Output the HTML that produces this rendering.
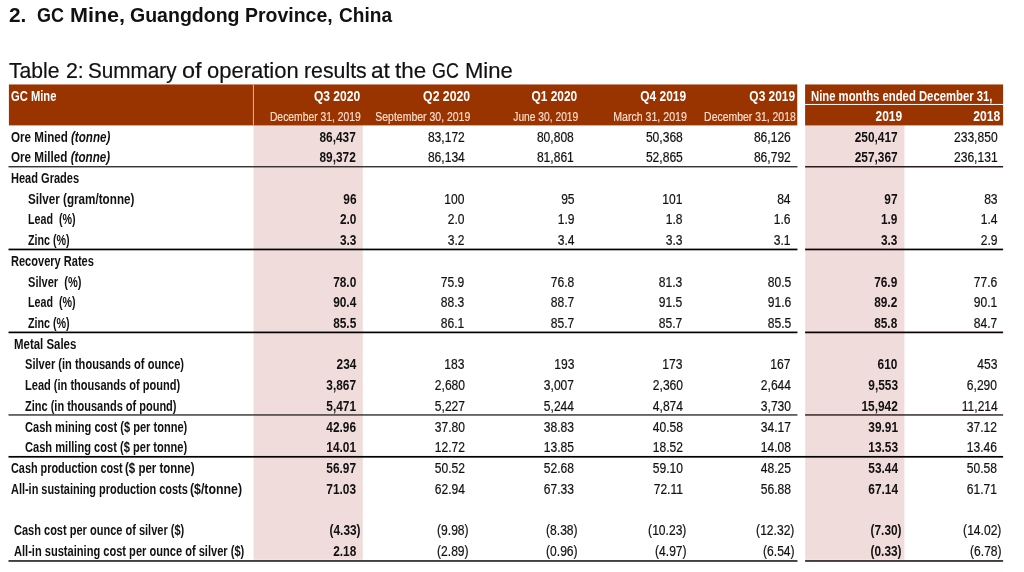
<!DOCTYPE html>
<html lang="en">
<head>
<meta charset="utf-8">
<title>GC Mine, Guangdong Province, China - Table 2</title>
<style>
html,body{margin:0;padding:0;background:#fff;}
body{width:1024px;height:572px;position:relative;overflow:hidden;font-family:"Liberation Sans",sans-serif;color:#111;}
.t{position:absolute;white-space:nowrap;line-height:1;display:block;}
#txt{position:absolute;left:0;top:0;width:1024px;height:572px;will-change:transform;filter:blur(0.4px);}
#bg{filter:blur(0.35px);}
.l{transform-origin:0 0;}
.r{transform-origin:100% 0;}
.b{font-weight:bold;}
.k{color:#111;}
.g{-webkit-text-stroke:0.2px #111;}
.w{color:#fff;}
.p{color:#fcdfcd;-webkit-text-stroke:0.15px #fcdfcd;}
i{font-style:italic;}
</style>
</head>
<body>
<svg id="bg" width="1024" height="572" viewBox="0 0 1024 572" shape-rendering="geometricPrecision" style="position:absolute;left:0;top:0">
<rect x="253.60" y="124.90" width="109.15" height="434.90" fill="#f0dcdb"/>
<rect x="805.20" y="124.90" width="99.20" height="434.90" fill="#f0dcdb"/>
<rect x="8.90" y="84.45" width="788.35" height="40.95" fill="#993300"/>
<rect x="805.10" y="84.45" width="198.00" height="40.95" fill="#993300"/>
<rect x="252.90" y="84.45" width="1.00" height="40.95" fill="#f2b496"/>
<rect x="805.10" y="103.95" width="198.00" height="1.05" fill="#fff4ec"/>
<rect x="8.50" y="166.10" width="788.95" height="1.30" fill="#222222"/>
<rect x="805.10" y="166.00" width="198.00" height="1.50" fill="#2a1c1c"/>
<rect x="8.50" y="248.60" width="788.95" height="1.70" fill="#000000"/>
<rect x="805.10" y="248.60" width="198.00" height="1.70" fill="#0a0000"/>
<rect x="8.50" y="331.55" width="788.95" height="1.70" fill="#000000"/>
<rect x="805.10" y="331.55" width="198.00" height="1.70" fill="#0a0000"/>
<rect x="8.50" y="414.30" width="788.95" height="1.30" fill="#222222"/>
<rect x="805.10" y="414.25" width="198.00" height="1.40" fill="#2a1c1c"/>
<rect x="8.50" y="455.95" width="994.60" height="1.70" fill="#000000"/>
<rect x="8.50" y="560.00" width="788.95" height="1.90" fill="#404040"/>
<rect x="805.10" y="560.00" width="198.00" height="1.90" fill="#443c3c"/>
</svg>
<div id="txt">
<span id="t1_0" class="t l b k" style="left:8.60px;top:4.84px;font-size:20.50px;transform:scaleX(1.0170)">2.</span>
<span id="t1_1" class="t l b k" style="left:37.10px;top:4.84px;font-size:20.50px;transform:scaleX(0.8780)">GC</span>
<span id="t1_2" class="t l b k" style="left:69.60px;top:4.84px;font-size:20.50px;transform:scaleX(1.0514)">Mine,</span>
<span id="t1_3" class="t l b k" style="left:129.70px;top:4.84px;font-size:20.50px;transform:scaleX(0.9520)">Guangdong</span>
<span id="t1_4" class="t l b k" style="left:245.30px;top:4.84px;font-size:20.50px;transform:scaleX(0.9502)">Province,</span>
<span id="t1_5" class="t l b k" style="left:339.10px;top:4.84px;font-size:20.50px;transform:scaleX(0.9306)">China</span>
<span id="t2_0" class="t l k g" style="left:9.30px;top:60.80px;font-size:21.50px;transform:scaleX(0.9824)">Table</span>
<span id="t2_1" class="t l k g" style="left:65.60px;top:60.80px;font-size:21.50px;transform:scaleX(0.9923)">2:</span>
<span id="t2_2" class="t l k g" style="left:87.50px;top:60.80px;font-size:21.50px;transform:scaleX(0.9632)">Summary</span>
<span id="t2_3" class="t l k g" style="left:182.40px;top:60.80px;font-size:21.50px;transform:scaleX(1.0927)">of</span>
<span id="t2_4" class="t l k g" style="left:206.80px;top:60.80px;font-size:21.50px;transform:scaleX(1.0217)">operation</span>
<span id="t2_5" class="t l k g" style="left:303.80px;top:60.80px;font-size:21.50px;transform:scaleX(0.9901)">results</span>
<span id="t2_6" class="t l k g" style="left:371.00px;top:60.80px;font-size:21.50px;transform:scaleX(1.0537)">at</span>
<span id="t2_7" class="t l k g" style="left:395.35px;top:60.80px;font-size:21.50px;transform:scaleX(1.0421)">the</span>
<span id="t2_8" class="t l k g" style="left:431.90px;top:60.80px;font-size:21.50px;transform:scaleX(0.8310)">GC</span>
<span id="t2_9" class="t l k g" style="left:464.70px;top:60.80px;font-size:21.50px;transform:scaleX(1.0255)">Mine</span>
<span id="hgc" class="t l b w" style="left:11.20px;top:89.28px;font-size:14.90px;transform:scaleX(0.7516)">GC Mine</span>
<span id="h1_0" class="t r b w" style="right:663.60px;top:89.28px;font-size:14.90px;transform:scaleX(0.8085)">Q3 2020</span>
<span id="h1_1" class="t r b w" style="right:554.20px;top:89.28px;font-size:14.90px;transform:scaleX(0.8234)">Q2 2020</span>
<span id="h1_2" class="t r b w" style="right:446.40px;top:89.28px;font-size:14.90px;transform:scaleX(0.7980)">Q1 2020</span>
<span id="h1_3" class="t r b w" style="right:337.90px;top:89.28px;font-size:14.90px;transform:scaleX(0.8024)">Q4 2019</span>
<span id="h1_4" class="t r b w" style="right:229.20px;top:89.28px;font-size:14.90px;transform:scaleX(0.8015)">Q3 2019</span>
<span id="h1_5" class="t r b w" style="right:122.30px;top:109.05px;font-size:14.00px;transform:scaleX(0.8570)">2019</span>
<span id="h1_6" class="t r b w" style="right:23.60px;top:109.05px;font-size:14.00px;transform:scaleX(0.8634)">2018</span>
<span id="h2_0" class="t r p" style="right:663.20px;top:111.22px;font-size:12.50px;transform:scaleX(0.8279)">December 31, 2019</span>
<span id="h2_1" class="t r p" style="right:554.20px;top:111.22px;font-size:12.50px;transform:scaleX(0.8386)">September 30, 2019</span>
<span id="h2_2" class="t r p" style="right:446.00px;top:111.22px;font-size:12.50px;transform:scaleX(0.8196)">June 30, 2019</span>
<span id="h2_3" class="t r p" style="right:337.25px;top:111.22px;font-size:12.50px;transform:scaleX(0.8485)">March 31, 2019</span>
<span id="h2_4" class="t r p" style="right:228.50px;top:111.22px;font-size:12.50px;transform:scaleX(0.8352)">December 31, 2018</span>
<span id="h9" class="t l b w" style="left:810.90px;top:89.05px;font-size:14.00px;transform:scaleX(0.8068)">Nine months ended December 31,</span>
<span id="l0" class="t l b k" style="left:11.15px;top:129.55px;font-size:14.00px;transform:scaleX(0.8293)">Ore Mined <i>(tonne)</i></span>
<span id="l1" class="t l b k" style="left:11.15px;top:150.26px;font-size:14.00px;transform:scaleX(0.8339)">Ore Milled <i>(tonne)</i></span>
<span id="l2" class="t l b k" style="left:11.15px;top:170.98px;font-size:14.00px;transform:scaleX(0.7890)">Head Grades</span>
<span id="l3" class="t l b k" style="left:28.20px;top:191.69px;font-size:14.00px;transform:scaleX(0.8339)">Silver (gram/tonne)</span>
<span id="l4" class="t l b k" style="left:28.20px;top:212.41px;font-size:14.00px;transform:scaleX(0.7649)">Lead&nbsp; (%)</span>
<span id="l5" class="t l b k" style="left:28.20px;top:233.12px;font-size:14.00px;transform:scaleX(0.7658)">Zinc (%)</span>
<span id="l6" class="t l b k" style="left:11.15px;top:253.84px;font-size:14.00px;transform:scaleX(0.7886)">Recovery Rates</span>
<span id="l7" class="t l b k" style="left:28.20px;top:274.55px;font-size:14.00px;transform:scaleX(0.7902)">Silver&nbsp; (%)</span>
<span id="l8" class="t l b k" style="left:28.20px;top:295.27px;font-size:14.00px;transform:scaleX(0.7649)">Lead&nbsp; (%)</span>
<span id="l9" class="t l b k" style="left:28.20px;top:315.99px;font-size:14.00px;transform:scaleX(0.7658)">Zinc (%)</span>
<span id="l10" class="t l b k" style="left:14.40px;top:336.70px;font-size:14.00px;transform:scaleX(0.8169)">Metal Sales</span>
<span id="l11" class="t l b k" style="left:25.15px;top:357.42px;font-size:14.00px;transform:scaleX(0.7923)">Silver (in thousands of ounce)</span>
<span id="l12" class="t l b k" style="left:25.15px;top:378.13px;font-size:14.00px;transform:scaleX(0.7890)">Lead (in thousands of pound)</span>
<span id="l13" class="t l b k" style="left:25.15px;top:398.85px;font-size:14.00px;transform:scaleX(0.7855)">Zinc (in thousands of pound)</span>
<span id="l14" class="t l b k" style="left:25.15px;top:419.56px;font-size:14.00px;transform:scaleX(0.7901)">Cash mining cost ($ per tonne)</span>
<span id="l15" class="t l b k" style="left:25.15px;top:440.28px;font-size:14.00px;transform:scaleX(0.7930)">Cash milling cost ($ per tonne)</span>
<span id="l16" class="t l b k" style="left:11.15px;top:460.99px;font-size:14.00px;transform:scaleX(0.7765)">Cash production cost</span>
<span id="l16_0001" class="t l b k" style="left:125.40px;top:460.99px;font-size:14.00px;transform:scaleX(0.8198)">($ per tonne)</span>
<span id="l17" class="t l b k" style="left:11.15px;top:481.71px;font-size:14.00px;transform:scaleX(0.7809)">All-in sustaining production costs</span>
<span id="l17_0001" class="t l b k" style="left:190.40px;top:481.71px;font-size:14.00px;transform:scaleX(0.8797)">($/tonne)</span>
<span id="l19" class="t l b k" style="left:13.90px;top:523.14px;font-size:14.00px;transform:scaleX(0.7871)">Cash cost per ounce of silver ($)</span>
<span id="l20" class="t l b k" style="left:13.90px;top:543.86px;font-size:14.00px;transform:scaleX(0.7914)">All-in sustaining cost per ounce of silver ($)</span>
<span id="d0_0" class="t r b k" style="right:667.70px;top:129.55px;font-size:14.00px;transform:scaleX(0.8480)">86,437</span>
<span id="d0_1" class="t r k g" style="right:559.30px;top:129.55px;font-size:14.00px;transform:scaleX(0.8620)">83,172</span>
<span id="d0_2" class="t r k g" style="right:449.90px;top:129.55px;font-size:14.00px;transform:scaleX(0.8620)">80,808</span>
<span id="d0_3" class="t r k g" style="right:341.40px;top:129.55px;font-size:14.00px;transform:scaleX(0.8620)">50,368</span>
<span id="d0_4" class="t r k g" style="right:233.20px;top:129.55px;font-size:14.00px;transform:scaleX(0.8620)">86,126</span>
<span id="d0_5" class="t r b k" style="right:126.40px;top:129.55px;font-size:14.00px;transform:scaleX(0.8480)">250,417</span>
<span id="d0_6" class="t r k g" style="right:26.70px;top:129.55px;font-size:14.00px;transform:scaleX(0.8620)">233,850</span>
<span id="d1_0" class="t r b k" style="right:667.70px;top:150.26px;font-size:14.00px;transform:scaleX(0.8480)">89,372</span>
<span id="d1_1" class="t r k g" style="right:559.30px;top:150.26px;font-size:14.00px;transform:scaleX(0.8620)">86,134</span>
<span id="d1_2" class="t r k g" style="right:449.90px;top:150.26px;font-size:14.00px;transform:scaleX(0.8620)">81,861</span>
<span id="d1_3" class="t r k g" style="right:341.40px;top:150.26px;font-size:14.00px;transform:scaleX(0.8620)">52,865</span>
<span id="d1_4" class="t r k g" style="right:233.20px;top:150.26px;font-size:14.00px;transform:scaleX(0.8620)">86,792</span>
<span id="d1_5" class="t r b k" style="right:126.40px;top:150.26px;font-size:14.00px;transform:scaleX(0.8480)">257,367</span>
<span id="d1_6" class="t r k g" style="right:26.70px;top:150.26px;font-size:14.00px;transform:scaleX(0.8620)">236,131</span>
<span id="d3_0" class="t r b k" style="right:667.70px;top:191.69px;font-size:14.00px;transform:scaleX(0.8480)">96</span>
<span id="d3_1" class="t r k g" style="right:559.30px;top:191.69px;font-size:14.00px;transform:scaleX(0.8620)">100</span>
<span id="d3_2" class="t r k g" style="right:449.90px;top:191.69px;font-size:14.00px;transform:scaleX(0.8620)">95</span>
<span id="d3_3" class="t r k g" style="right:341.40px;top:191.69px;font-size:14.00px;transform:scaleX(0.8620)">101</span>
<span id="d3_4" class="t r k g" style="right:233.20px;top:191.69px;font-size:14.00px;transform:scaleX(0.8620)">84</span>
<span id="d3_5" class="t r b k" style="right:126.40px;top:191.69px;font-size:14.00px;transform:scaleX(0.8480)">97</span>
<span id="d3_6" class="t r k g" style="right:26.70px;top:191.69px;font-size:14.00px;transform:scaleX(0.8620)">83</span>
<span id="d4_0" class="t r b k" style="right:667.70px;top:212.41px;font-size:14.00px;transform:scaleX(0.8480)">2.0</span>
<span id="d4_1" class="t r k g" style="right:559.30px;top:212.41px;font-size:14.00px;transform:scaleX(0.8620)">2.0</span>
<span id="d4_2" class="t r k g" style="right:449.90px;top:212.41px;font-size:14.00px;transform:scaleX(0.8620)">1.9</span>
<span id="d4_3" class="t r k g" style="right:341.40px;top:212.41px;font-size:14.00px;transform:scaleX(0.8620)">1.8</span>
<span id="d4_4" class="t r k g" style="right:233.20px;top:212.41px;font-size:14.00px;transform:scaleX(0.8620)">1.6</span>
<span id="d4_5" class="t r b k" style="right:126.40px;top:212.41px;font-size:14.00px;transform:scaleX(0.8480)">1.9</span>
<span id="d4_6" class="t r k g" style="right:26.70px;top:212.41px;font-size:14.00px;transform:scaleX(0.8620)">1.4</span>
<span id="d5_0" class="t r b k" style="right:667.70px;top:233.12px;font-size:14.00px;transform:scaleX(0.8480)">3.3</span>
<span id="d5_1" class="t r k g" style="right:559.30px;top:233.12px;font-size:14.00px;transform:scaleX(0.8620)">3.2</span>
<span id="d5_2" class="t r k g" style="right:449.90px;top:233.12px;font-size:14.00px;transform:scaleX(0.8620)">3.4</span>
<span id="d5_3" class="t r k g" style="right:341.40px;top:233.12px;font-size:14.00px;transform:scaleX(0.8620)">3.3</span>
<span id="d5_4" class="t r k g" style="right:233.20px;top:233.12px;font-size:14.00px;transform:scaleX(0.8620)">3.1</span>
<span id="d5_5" class="t r b k" style="right:126.40px;top:233.12px;font-size:14.00px;transform:scaleX(0.8480)">3.3</span>
<span id="d5_6" class="t r k g" style="right:26.70px;top:233.12px;font-size:14.00px;transform:scaleX(0.8620)">2.9</span>
<span id="d7_0" class="t r b k" style="right:667.70px;top:274.55px;font-size:14.00px;transform:scaleX(0.8480)">78.0</span>
<span id="d7_1" class="t r k g" style="right:559.30px;top:274.55px;font-size:14.00px;transform:scaleX(0.8620)">75.9</span>
<span id="d7_2" class="t r k g" style="right:449.90px;top:274.55px;font-size:14.00px;transform:scaleX(0.8620)">76.8</span>
<span id="d7_3" class="t r k g" style="right:341.40px;top:274.55px;font-size:14.00px;transform:scaleX(0.8620)">81.3</span>
<span id="d7_4" class="t r k g" style="right:233.20px;top:274.55px;font-size:14.00px;transform:scaleX(0.8620)">80.5</span>
<span id="d7_5" class="t r b k" style="right:126.40px;top:274.55px;font-size:14.00px;transform:scaleX(0.8480)">76.9</span>
<span id="d7_6" class="t r k g" style="right:26.70px;top:274.55px;font-size:14.00px;transform:scaleX(0.8620)">77.6</span>
<span id="d8_0" class="t r b k" style="right:667.70px;top:295.27px;font-size:14.00px;transform:scaleX(0.8480)">90.4</span>
<span id="d8_1" class="t r k g" style="right:559.30px;top:295.27px;font-size:14.00px;transform:scaleX(0.8620)">88.3</span>
<span id="d8_2" class="t r k g" style="right:449.90px;top:295.27px;font-size:14.00px;transform:scaleX(0.8620)">88.7</span>
<span id="d8_3" class="t r k g" style="right:341.40px;top:295.27px;font-size:14.00px;transform:scaleX(0.8620)">91.5</span>
<span id="d8_4" class="t r k g" style="right:233.20px;top:295.27px;font-size:14.00px;transform:scaleX(0.8620)">91.6</span>
<span id="d8_5" class="t r b k" style="right:126.40px;top:295.27px;font-size:14.00px;transform:scaleX(0.8480)">89.2</span>
<span id="d8_6" class="t r k g" style="right:26.70px;top:295.27px;font-size:14.00px;transform:scaleX(0.8620)">90.1</span>
<span id="d9_0" class="t r b k" style="right:667.70px;top:315.99px;font-size:14.00px;transform:scaleX(0.8480)">85.5</span>
<span id="d9_1" class="t r k g" style="right:559.30px;top:315.99px;font-size:14.00px;transform:scaleX(0.8620)">86.1</span>
<span id="d9_2" class="t r k g" style="right:449.90px;top:315.99px;font-size:14.00px;transform:scaleX(0.8620)">85.7</span>
<span id="d9_3" class="t r k g" style="right:341.40px;top:315.99px;font-size:14.00px;transform:scaleX(0.8620)">85.7</span>
<span id="d9_4" class="t r k g" style="right:233.20px;top:315.99px;font-size:14.00px;transform:scaleX(0.8620)">85.5</span>
<span id="d9_5" class="t r b k" style="right:126.40px;top:315.99px;font-size:14.00px;transform:scaleX(0.8480)">85.8</span>
<span id="d9_6" class="t r k g" style="right:26.70px;top:315.99px;font-size:14.00px;transform:scaleX(0.8620)">84.7</span>
<span id="d11_0" class="t r b k" style="right:667.70px;top:357.42px;font-size:14.00px;transform:scaleX(0.8480)">234</span>
<span id="d11_1" class="t r k g" style="right:559.30px;top:357.42px;font-size:14.00px;transform:scaleX(0.8620)">183</span>
<span id="d11_2" class="t r k g" style="right:449.90px;top:357.42px;font-size:14.00px;transform:scaleX(0.8620)">193</span>
<span id="d11_3" class="t r k g" style="right:341.40px;top:357.42px;font-size:14.00px;transform:scaleX(0.8620)">173</span>
<span id="d11_4" class="t r k g" style="right:233.20px;top:357.42px;font-size:14.00px;transform:scaleX(0.8620)">167</span>
<span id="d11_5" class="t r b k" style="right:126.40px;top:357.42px;font-size:14.00px;transform:scaleX(0.8480)">610</span>
<span id="d11_6" class="t r k g" style="right:26.70px;top:357.42px;font-size:14.00px;transform:scaleX(0.8620)">453</span>
<span id="d12_0" class="t r b k" style="right:667.70px;top:378.13px;font-size:14.00px;transform:scaleX(0.8480)">3,867</span>
<span id="d12_1" class="t r k g" style="right:559.30px;top:378.13px;font-size:14.00px;transform:scaleX(0.8620)">2,680</span>
<span id="d12_2" class="t r k g" style="right:449.90px;top:378.13px;font-size:14.00px;transform:scaleX(0.8620)">3,007</span>
<span id="d12_3" class="t r k g" style="right:341.40px;top:378.13px;font-size:14.00px;transform:scaleX(0.8620)">2,360</span>
<span id="d12_4" class="t r k g" style="right:233.20px;top:378.13px;font-size:14.00px;transform:scaleX(0.8620)">2,644</span>
<span id="d12_5" class="t r b k" style="right:126.40px;top:378.13px;font-size:14.00px;transform:scaleX(0.8480)">9,553</span>
<span id="d12_6" class="t r k g" style="right:26.70px;top:378.13px;font-size:14.00px;transform:scaleX(0.8620)">6,290</span>
<span id="d13_0" class="t r b k" style="right:667.70px;top:398.85px;font-size:14.00px;transform:scaleX(0.8480)">5,471</span>
<span id="d13_1" class="t r k g" style="right:559.30px;top:398.85px;font-size:14.00px;transform:scaleX(0.8620)">5,227</span>
<span id="d13_2" class="t r k g" style="right:449.90px;top:398.85px;font-size:14.00px;transform:scaleX(0.8620)">5,244</span>
<span id="d13_3" class="t r k g" style="right:341.40px;top:398.85px;font-size:14.00px;transform:scaleX(0.8620)">4,874</span>
<span id="d13_4" class="t r k g" style="right:233.20px;top:398.85px;font-size:14.00px;transform:scaleX(0.8620)">3,730</span>
<span id="d13_5" class="t r b k" style="right:126.40px;top:398.85px;font-size:14.00px;transform:scaleX(0.8480)">15,942</span>
<span id="d13_6" class="t r k g" style="right:26.70px;top:398.85px;font-size:14.00px;transform:scaleX(0.8620)">11,214</span>
<span id="d14_0" class="t r b k" style="right:667.70px;top:419.56px;font-size:14.00px;transform:scaleX(0.8480)">42.96</span>
<span id="d14_1" class="t r k g" style="right:559.30px;top:419.56px;font-size:14.00px;transform:scaleX(0.8620)">37.80</span>
<span id="d14_2" class="t r k g" style="right:449.90px;top:419.56px;font-size:14.00px;transform:scaleX(0.8620)">38.83</span>
<span id="d14_3" class="t r k g" style="right:341.40px;top:419.56px;font-size:14.00px;transform:scaleX(0.8620)">40.58</span>
<span id="d14_4" class="t r k g" style="right:233.20px;top:419.56px;font-size:14.00px;transform:scaleX(0.8620)">34.17</span>
<span id="d14_5" class="t r b k" style="right:126.40px;top:419.56px;font-size:14.00px;transform:scaleX(0.8480)">39.91</span>
<span id="d14_6" class="t r k g" style="right:26.70px;top:419.56px;font-size:14.00px;transform:scaleX(0.8620)">37.12</span>
<span id="d15_0" class="t r b k" style="right:667.70px;top:440.28px;font-size:14.00px;transform:scaleX(0.8480)">14.01</span>
<span id="d15_1" class="t r k g" style="right:559.30px;top:440.28px;font-size:14.00px;transform:scaleX(0.8620)">12.72</span>
<span id="d15_2" class="t r k g" style="right:449.90px;top:440.28px;font-size:14.00px;transform:scaleX(0.8620)">13.85</span>
<span id="d15_3" class="t r k g" style="right:341.40px;top:440.28px;font-size:14.00px;transform:scaleX(0.8620)">18.52</span>
<span id="d15_4" class="t r k g" style="right:233.20px;top:440.28px;font-size:14.00px;transform:scaleX(0.8620)">14.08</span>
<span id="d15_5" class="t r b k" style="right:126.40px;top:440.28px;font-size:14.00px;transform:scaleX(0.8480)">13.53</span>
<span id="d15_6" class="t r k g" style="right:26.70px;top:440.28px;font-size:14.00px;transform:scaleX(0.8620)">13.46</span>
<span id="d16_0" class="t r b k" style="right:667.70px;top:460.99px;font-size:14.00px;transform:scaleX(0.8480)">56.97</span>
<span id="d16_1" class="t r k g" style="right:559.30px;top:460.99px;font-size:14.00px;transform:scaleX(0.8620)">50.52</span>
<span id="d16_2" class="t r k g" style="right:449.90px;top:460.99px;font-size:14.00px;transform:scaleX(0.8620)">52.68</span>
<span id="d16_3" class="t r k g" style="right:341.40px;top:460.99px;font-size:14.00px;transform:scaleX(0.8620)">59.10</span>
<span id="d16_4" class="t r k g" style="right:233.20px;top:460.99px;font-size:14.00px;transform:scaleX(0.8620)">48.25</span>
<span id="d16_5" class="t r b k" style="right:126.40px;top:460.99px;font-size:14.00px;transform:scaleX(0.8480)">53.44</span>
<span id="d16_6" class="t r k g" style="right:26.70px;top:460.99px;font-size:14.00px;transform:scaleX(0.8620)">50.58</span>
<span id="d17_0" class="t r b k" style="right:667.70px;top:481.71px;font-size:14.00px;transform:scaleX(0.8480)">71.03</span>
<span id="d17_1" class="t r k g" style="right:559.30px;top:481.71px;font-size:14.00px;transform:scaleX(0.8620)">62.94</span>
<span id="d17_2" class="t r k g" style="right:449.90px;top:481.71px;font-size:14.00px;transform:scaleX(0.8620)">67.33</span>
<span id="d17_3" class="t r k g" style="right:341.40px;top:481.71px;font-size:14.00px;transform:scaleX(0.8620)">72.11</span>
<span id="d17_4" class="t r k g" style="right:233.20px;top:481.71px;font-size:14.00px;transform:scaleX(0.8620)">56.88</span>
<span id="d17_5" class="t r b k" style="right:126.40px;top:481.71px;font-size:14.00px;transform:scaleX(0.8480)">67.14</span>
<span id="d17_6" class="t r k g" style="right:26.70px;top:481.71px;font-size:14.00px;transform:scaleX(0.8620)">61.71</span>
<span id="d19_0" class="t r b k" style="right:663.80px;top:523.14px;font-size:14.00px;transform:scaleX(0.8480)">(4.33)</span>
<span id="d19_1" class="t r k g" style="right:555.40px;top:523.14px;font-size:14.00px;transform:scaleX(0.8620)">(9.98)</span>
<span id="d19_2" class="t r k g" style="right:446.00px;top:523.14px;font-size:14.00px;transform:scaleX(0.8620)">(8.38)</span>
<span id="d19_3" class="t r k g" style="right:337.50px;top:523.14px;font-size:14.00px;transform:scaleX(0.8620)">(10.23)</span>
<span id="d19_4" class="t r k g" style="right:229.30px;top:523.14px;font-size:14.00px;transform:scaleX(0.8620)">(12.32)</span>
<span id="d19_5" class="t r b k" style="right:122.50px;top:523.14px;font-size:14.00px;transform:scaleX(0.8480)">(7.30)</span>
<span id="d19_6" class="t r k g" style="right:22.80px;top:523.14px;font-size:14.00px;transform:scaleX(0.8620)">(14.02)</span>
<span id="d20_0" class="t r b k" style="right:667.70px;top:543.86px;font-size:14.00px;transform:scaleX(0.8480)">2.18</span>
<span id="d20_1" class="t r k g" style="right:555.40px;top:543.86px;font-size:14.00px;transform:scaleX(0.8620)">(2.89)</span>
<span id="d20_2" class="t r k g" style="right:446.00px;top:543.86px;font-size:14.00px;transform:scaleX(0.8620)">(0.96)</span>
<span id="d20_3" class="t r k g" style="right:337.50px;top:543.86px;font-size:14.00px;transform:scaleX(0.8620)">(4.97)</span>
<span id="d20_4" class="t r k g" style="right:229.30px;top:543.86px;font-size:14.00px;transform:scaleX(0.8620)">(6.54)</span>
<span id="d20_5" class="t r b k" style="right:122.50px;top:543.86px;font-size:14.00px;transform:scaleX(0.8480)">(0.33)</span>
<span id="d20_6" class="t r k g" style="right:22.80px;top:543.86px;font-size:14.00px;transform:scaleX(0.8620)">(6.78)</span>
</div>
</body>
</html>
